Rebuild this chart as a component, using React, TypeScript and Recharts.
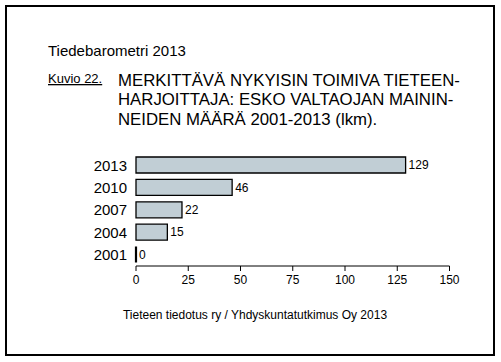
import React from 'react';
import { BarChart, Bar, XAxis, YAxis, LabelList } from 'recharts';

const years = ['2001', '2004', '2007', '2010', '2013'];
const mentions = [0, 15, 22, 46, 129];
const xTicks = [0, 25, 50, 75, 100, 125, 150];
const headerText = 'Tiedebarometri 2013';
const figureLabel = 'Kuvio 22.';
const titleLines = [
  'MERKITTÄVÄ NYKYISIN TOIMIVA TIETEEN-',
  'HARJOITTAJA: ESKO VALTAOJAN MAININ-',
  'NEIDEN MÄÄRÄ 2001-2013 (lkm).',
];
const sourceText = 'Tieteen tiedotus ry / Yhdyskuntatutkimus Oy 2013';

const data = years.map((y, i) => ({ year: y, value: mentions[i] }));

const FONT = 'Arial, "Liberation Sans", Helvetica, sans-serif';

const BarShape = (props: any) => {
  const { x, y, width, height, fill } = props;
  const w = Math.max(0, width);
  const d = `M${x},${y} h${w} v${height} h${-w} Z`;
  return (
    <path d={d} fill={fill} stroke="#000" strokeWidth={w < 1 ? 2.2 : 1.3} />
  );
};

export default function App() {
  return (
    <div
      style={{
        position: 'absolute',
        left: 0,
        top: 0,
        width: 501,
        height: 362,
        background: '#fff',
        fontFamily: FONT,
      }}
    >
      <svg
        width={501}
        height={362}
        style={{ position: 'absolute', left: 0, top: 0 }}
        fontFamily={FONT}
      >
        <rect x={6} y={6} width={488} height={349} fill="none" stroke="#000" strokeWidth={2} />
        <text x={48} y={56} fontSize={15} fill="#000">
          {headerText}
        </text>
        <text x={48} y={83} fontSize={13} fill="#000" textDecoration="underline">
          {figureLabel}
        </text>
        {titleLines.map((t, i) => (
          <text key={i} x={118} y={85.5 + i * 19.5} fontSize={16.8} fill="#000">
            {t}
          </text>
        ))}
        <text x={255} y={319} fontSize={12} fill="#000" textAnchor="middle">
          {sourceText}
        </text>
      </svg>
      <div style={{ position: 'absolute', left: 0, top: 0 }}>
        <BarChart
          width={501}
          height={362}
          data={data}
          layout="vertical"
          margin={{ top: 154, right: 51.5, bottom: 66, left: 0 }}
          barSize={16}
        >
          <XAxis
            type="number"
            domain={[0, 150]}
            ticks={xTicks}
            interval={0}
            axisLine={{ stroke: '#000', strokeWidth: 1 }}
            tickLine={{ stroke: '#000', strokeWidth: 1 }}
            tickSize={5}
            tickMargin={4}
            height={30}
            tick={{ fill: '#000', fontSize: 12 }}
          />
          <YAxis
            type="category"
            dataKey="year"
            reversed
            width={136}
            axisLine={false}
            tickLine={false}
            tickSize={0}
            tickMargin={9}
            tick={{ fill: '#000', fontSize: 15 }}
          />
          <Bar dataKey="value" fill="#C1CED5" shape={BarShape} isAnimationActive={false}>
            <LabelList dataKey="value" position="right" offset={3} fill="#000" fontSize={12} />
          </Bar>
        </BarChart>
      </div>
    </div>
  );
}
